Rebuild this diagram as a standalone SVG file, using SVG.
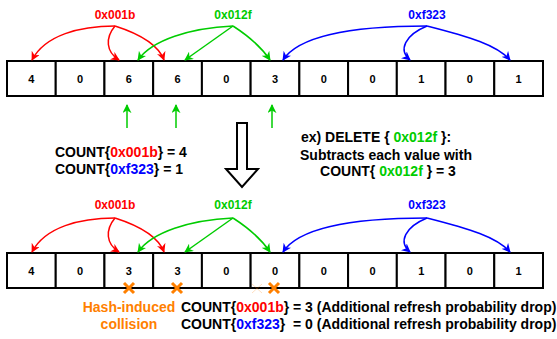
<svg xmlns="http://www.w3.org/2000/svg" width="557" height="339" viewBox="0 0 557 339">
<style>
text{font-family:"Liberation Sans",Arial,sans-serif;font-weight:bold;white-space:pre}
.cell{fill:#fff;stroke:#000;stroke-width:2}
.num{font-size:11px;text-anchor:middle}
.lbl{font-size:12px;text-anchor:middle}
.t14{font-size:14px}
.r{fill:#FF0000}.g{fill:#00CC00}.b{fill:#0000FF}.o{fill:#FF8000}
.ar{fill:none;stroke:#FF0000;stroke-width:1.5;marker-end:url(#mr)}
.ag{fill:none;stroke:#00CC00;stroke-width:1.5;marker-end:url(#mg)}
.ab{fill:none;stroke:#0000FF;stroke-width:1.5;marker-end:url(#mb)}
.x{stroke:#FF8000;stroke-width:3;fill:none}
</style>
<defs>
<marker id="mr" viewBox="0 0 10 10" refX="9" refY="5" markerWidth="9" markerHeight="9" markerUnits="userSpaceOnUse" orient="auto"><path d="M0,0 L10,5 L0,10 L3,5 z" fill="#FF0000"/></marker>
<marker id="mg" viewBox="0 0 10 10" refX="9" refY="5" markerWidth="9" markerHeight="9" markerUnits="userSpaceOnUse" orient="auto"><path d="M0,0 L10,5 L0,10 L3,5 z" fill="#00CC00"/></marker>
<marker id="mb" viewBox="0 0 10 10" refX="9" refY="5" markerWidth="9" markerHeight="9" markerUnits="userSpaceOnUse" orient="auto"><path d="M0,0 L10,5 L0,10 L3,5 z" fill="#0000FF"/></marker>
<g id="arr">
<rect class="cell" x="7" y="0" width="48.73" height="35"/>
<rect class="cell" x="55.73" y="0" width="48.73" height="35"/>
<rect class="cell" x="104.45" y="0" width="48.73" height="35"/>
<rect class="cell" x="153.18" y="0" width="48.73" height="35"/>
<rect class="cell" x="201.91" y="0" width="48.73" height="35"/>
<rect class="cell" x="250.64" y="0" width="48.73" height="35"/>
<rect class="cell" x="299.36" y="0" width="48.73" height="35"/>
<rect class="cell" x="348.09" y="0" width="48.73" height="35"/>
<rect class="cell" x="396.82" y="0" width="48.73" height="35"/>
<rect class="cell" x="445.55" y="0" width="48.73" height="35"/>
<rect class="cell" x="494.27" y="0" width="48.73" height="35"/>
</g>
</defs>

<!-- TOP -->
<g id="top-array">
<use href="#arr" y="61"/>
<text class="num" x="31.4" y="83">4</text>
<text class="num" x="80.1" y="83">0</text>
<text class="num" x="128.8" y="83">6</text>
<text class="num" x="177.5" y="83">6</text>
<text class="num" x="226.3" y="83">0</text>
<text class="num" x="275" y="83">3</text>
<text class="num" x="323.7" y="83">0</text>
<text class="num" x="372.5" y="83">0</text>
<text class="num" x="421.2" y="83">1</text>
<text class="num" x="469.9" y="83">0</text>
<text class="num" x="518.6" y="83">1</text>
</g>
<g id="top-labels">
<text class="lbl r" x="115" y="19">0x001b</text>
<text class="lbl g" x="233" y="19">0x012f</text>
<text class="lbl b" x="427" y="19">0xf323</text>
</g>
<g id="top-connectors">
<path class="ar" d="M115,26 C80,26 45,35 32,60"/>
<path class="ar" d="M115,26 C105,38 106,52 119,60"/>
<path class="ar" d="M115,26 C140,34 158,44 164,60"/>
<path class="ag" d="M233,26 C190,28 152,40 138,60"/>
<path class="ag" d="M233,26 L185,60"/>
<path class="ag" d="M233,26 C250,37 262,48 270,60"/>
<path class="ab" d="M427,26 C360,26 300,34 283,60"/>
<path class="ab" d="M427,26 C405,35 398,50 410,60"/>
<path class="ab" d="M427,26 C470,37 497,45 510,60"/>
<path class="ag" d="M127,128 L127,105"/>
<path class="ag" d="M176,128 L176,105"/>
<path class="ag" d="M272,128 L272,105"/>
</g>

<g id="down-arrow">
<polygon points="237,123 247,123 247,169 258,169 242,187 226,169 237,169" fill="#fff" stroke="#000" stroke-width="2"/>
</g>

<g id="count-before">
<text class="t14" x="55" y="157">COUNT{<tspan class="r">0x001b</tspan>} = 4</text>
<text class="t14" x="55" y="174">COUNT{<tspan class="b">0xf323</tspan>} = 1</text>
</g>
<g id="delete-note">
<text class="t14" x="376" y="142" text-anchor="middle">ex) DELETE { <tspan class="g">0x012f</tspan> }:</text>
<text class="t14" x="386" y="160" text-anchor="middle">Subtracts each value with</text>
<text class="t14" x="388" y="176" text-anchor="middle">COUNT{ <tspan class="g">0x012f</tspan> } = 3</text>
</g>

<!-- BOTTOM -->
<g id="bottom-array">
<use href="#arr" y="253"/>
<text class="num" x="31.4" y="275">4</text>
<text class="num" x="80.1" y="275">0</text>
<text class="num" x="128.8" y="275">3</text>
<text class="num" x="177.5" y="275">3</text>
<text class="num" x="226.3" y="275">0</text>
<text class="num" x="275" y="275">0</text>
<text class="num" x="323.7" y="275">0</text>
<text class="num" x="372.5" y="275">0</text>
<text class="num" x="421.2" y="275">1</text>
<text class="num" x="469.9" y="275">0</text>
<text class="num" x="518.6" y="275">1</text>
</g>
<g id="bottom-labels">
<text class="lbl r" x="115" y="209">0x001b</text>
<text class="lbl g" x="233" y="209">0x012f</text>
<text class="lbl b" x="427" y="209">0xf323</text>
</g>
<g id="bottom-connectors" transform="translate(0,192)">
<path class="ar" d="M115,26 C80,26 45,35 32,60"/>
<path class="ar" d="M115,26 C105,38 106,52 119,60"/>
<path class="ar" d="M115,26 C140,34 158,44 164,60"/>
<path class="ag" d="M233,26 C190,28 152,40 138,60"/>
<path class="ag" d="M233,26 L185,60"/>
<path class="ag" d="M233,26 C250,37 262,48 270,60"/>
<path class="ab" d="M427,26 C360,26 300,34 283,60"/>
<path class="ab" d="M427,26 C405,35 398,50 410,60"/>
<path class="ab" d="M427,26 C470,37 497,45 510,60"/>
</g>
<g id="collision-marks">
<path class="x" d="M124,283 L134,293 M134,283 L124,293"/>
<path class="x" d="M172,283 L182,293 M182,283 L172,293"/>
<path class="x" d="M269,283 L279,293 M279,283 L269,293"/>
<path d="M252,284 L262,293 M262,284 L252,293" stroke="#FF8000" stroke-width="1" stroke-opacity="0.25" fill="none"/>
</g>
<g id="collision-label">
<text class="t14 o" x="129" y="312" text-anchor="middle">Hash-induced</text>
<text class="t14 o" x="129" y="329" text-anchor="middle">collision</text>
</g>
<g id="count-after">
<text class="t14" x="181" y="312">COUNT{<tspan class="r">0x001b</tspan>} = 3 (Additional refresh probability drop)</text>
<text class="t14" x="181" y="329">COUNT{<tspan class="b">0xf323</tspan>}  = 0 (Additional refresh probability drop)</text>
</g>
</svg>
